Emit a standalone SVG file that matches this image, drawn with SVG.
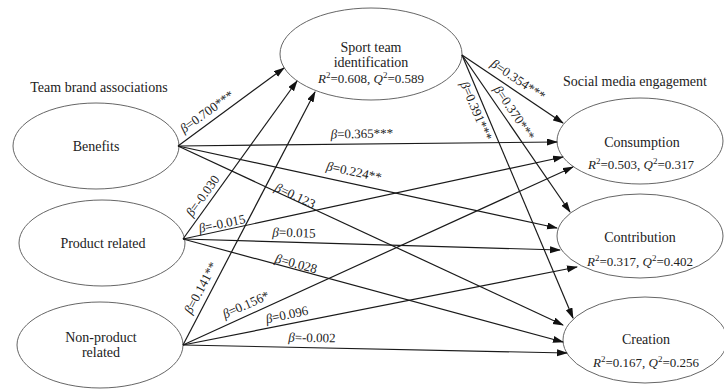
<svg xmlns="http://www.w3.org/2000/svg" width="724" height="389" viewBox="0 0 724 389">
<style>
.n{fill:#fff;stroke:#666;stroke-width:1}
.t{font-family:"Liberation Serif","Times New Roman",serif;font-size:14px;fill:#222;text-anchor:middle}
.r{font-family:"Liberation Serif","Times New Roman",serif;font-size:13px;fill:#222;text-anchor:middle}
.e{stroke:#1a1a1a;stroke-width:1.2;fill:none;marker-end:url(#ah)}
.i{font-style:italic}
</style>
<defs>
<marker id="ah" markerUnits="userSpaceOnUse" markerWidth="11" markerHeight="8" refX="10" refY="3.5" orient="auto">
<path d="M0,0 L11,3.5 L0,7 z" fill="#111"/>
</marker>
</defs>
<rect width="724" height="389" fill="#fff"/>
<text class="t" x="99" y="92">Team brand associations</text>
<text class="t" x="635" y="86">Social media engagement</text>
<g id="sport">
<ellipse class="n" cx="371" cy="54" rx="91" ry="46"/>
<text class="t" x="371" y="52">Sport team</text>
<text class="t" x="371" y="67">identification</text>
<text class="r" x="371" y="83"><tspan class="i">R</tspan><tspan font-size="9" dy="-5">2</tspan><tspan dy="5">=0.608, </tspan><tspan class="i">Q</tspan><tspan font-size="9" dy="-5">2</tspan><tspan dy="5">=0.589</tspan></text>
</g>
<g id="benefits">
<ellipse class="n" cx="96" cy="146" rx="83" ry="43"/>
<text class="t" x="96" y="151">Benefits</text>
</g>
<g id="product">
<ellipse class="n" cx="102" cy="243" rx="83" ry="43"/>
<text class="t" x="103" y="248">Product related</text>
</g>
<g id="nonproduct">
<ellipse class="n" cx="100" cy="345" rx="83" ry="43"/>
<text class="t" x="101" y="342">Non-product</text>
<text class="t" x="101" y="357">related</text>
</g>
<g id="consumption">
<ellipse class="n" cx="640" cy="141" rx="83" ry="43"/>
<text class="t" x="642" y="147">Consumption</text>
<text class="r" x="641" y="169"><tspan class="i">R</tspan><tspan font-size="9" dy="-5">2</tspan><tspan dy="5">=0.503, </tspan><tspan class="i">Q</tspan><tspan font-size="9" dy="-5">2</tspan><tspan dy="5">=0.317</tspan></text>
</g>
<g id="contribution">
<ellipse class="n" cx="640" cy="236" rx="83" ry="42"/>
<text class="t" x="640" y="242">Contribution</text>
<text class="r" x="640" y="266"><tspan class="i">R</tspan><tspan font-size="9" dy="-5">2</tspan><tspan dy="5">=0.317, </tspan><tspan class="i">Q</tspan><tspan font-size="9" dy="-5">2</tspan><tspan dy="5">=0.402</tspan></text>
</g>
<g id="creation">
<ellipse class="n" cx="645" cy="340" rx="82" ry="43"/>
<text class="t" x="646" y="344">Creation</text>
<text class="r" x="646" y="367"><tspan class="i">R</tspan><tspan font-size="9" dy="-5">2</tspan><tspan dy="5">=0.167, </tspan><tspan class="i">Q</tspan><tspan font-size="9" dy="-5">2</tspan><tspan dy="5">=0.256</tspan></text>
</g>
<g id="connectors">
<line class="e" x1="178" y1="146" x2="284" y2="68"/>
<line class="e" x1="183" y1="239" x2="297" y2="81"/>
<line class="e" x1="183" y1="345" x2="315" y2="92"/>
<line class="e" x1="178" y1="146" x2="557" y2="142"/>
<line class="e" x1="178" y1="146" x2="557" y2="228"/>
<line class="e" x1="178" y1="146" x2="563" y2="325"/>
<line class="e" x1="183" y1="239" x2="563" y2="157"/>
<line class="e" x1="183" y1="239" x2="560" y2="250"/>
<line class="e" x1="183" y1="239" x2="563" y2="342"/>
<line class="e" x1="183" y1="345" x2="573" y2="167"/>
<line class="e" x1="183" y1="345" x2="577" y2="267"/>
<line class="e" x1="183" y1="345" x2="567" y2="353"/>
<line class="e" x1="462" y1="55" x2="563" y2="123"/>
<line class="e" x1="462" y1="55" x2="570" y2="212"/>
<line class="e" x1="462" y1="55" x2="573" y2="318"/>
</g>
<g id="labels">
<text class="r" transform="translate(207,112) rotate(-36)" y="4"><tspan class="i">β</tspan>=0.700***</text>
<text class="r" transform="translate(362,134) rotate(-1)" y="4"><tspan class="i">β</tspan>=0.365***</text>
<text class="r" transform="translate(354,172) rotate(12)" y="4"><tspan class="i">β</tspan>=0.224**</text>
<text class="r" transform="translate(295,196) rotate(25)" y="4"><tspan class="i">β</tspan>=0.123</text>
<text class="r" transform="translate(203,196) rotate(-54)" y="4"><tspan class="i">β</tspan>=-0.030</text>
<text class="r" transform="translate(222,224) rotate(-12)" y="4"><tspan class="i">β</tspan>=-0.015</text>
<text class="r" transform="translate(294,233) rotate(1.5)" y="4"><tspan class="i">β</tspan>=0.015</text>
<text class="r" transform="translate(296,264) rotate(15)" y="4"><tspan class="i">β</tspan>=0.028</text>
<text class="r" transform="translate(201,288) rotate(-62)" y="4"><tspan class="i">β</tspan>=0.141**</text>
<text class="r" transform="translate(246,305) rotate(-24)" y="4"><tspan class="i">β</tspan>=0.156*</text>
<text class="r" transform="translate(287,315) rotate(-12)" y="4"><tspan class="i">β</tspan>=0.096</text>
<text class="r" transform="translate(312,338) rotate(1)" y="4"><tspan class="i">β</tspan>=-0.002</text>
<text class="r" transform="translate(518,80) rotate(34)" y="4"><tspan class="i">β</tspan>=0.354***</text>
<text class="r" transform="translate(514,113) rotate(56)" y="4"><tspan class="i">β</tspan>=0.370***</text>
<text class="r" transform="translate(476,111) rotate(67)" y="4"><tspan class="i">β</tspan>=0.391***</text>
</g>
</svg>
